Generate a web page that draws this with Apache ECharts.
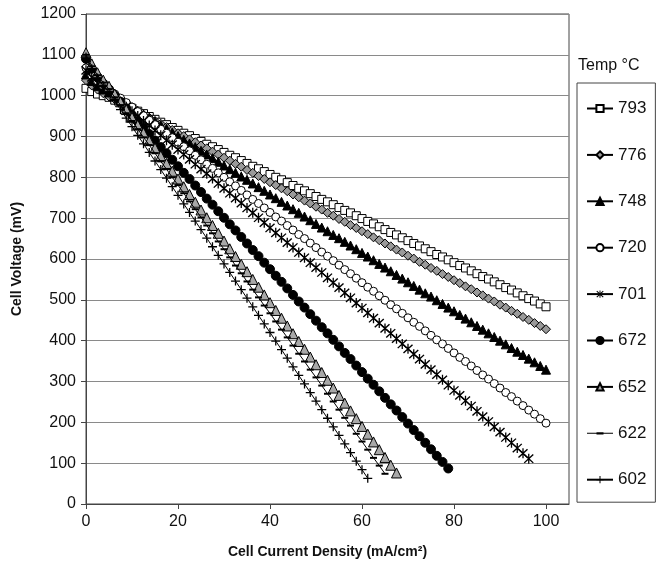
<!doctype html>
<html>
	<head>
		<meta charset="UTF-8">
		<title>Cell Voltage vs Current Density</title>
		<script src="https://cdn.jsdelivr.net/npm/echarts@6.0.0/dist/echarts.min.js"></script>
		<style>
			html, body {
				margin: 0;
				padding: 0;
				background: #fff;
			}
			#chart {
				width: 664px;
				height: 564px;
			}
		</style>
	</head>
	<body>
		<div id="chart"></div>
		<script type="text/javascript">
			// current density (mA/cm2), shared by all series, point i of every series sits here
			var currentDensity = [0,1.25,2.5,3.75,5,6.25,7.5,8.75,10,11.25,12.5,13.75,15,16.25,17.5,18.75,20,21.25,22.5,23.75,25,26.25,27.5,28.75,30,31.25,32.5,33.75,35,36.25,37.5,38.75,40,41.25,42.5,43.75,45,46.25,47.5,48.75,50,51.25,52.5,53.75,55,56.25,57.5,58.75,60,61.25,62.5,63.75,65,66.25,67.5,68.75,70,71.25,72.5,73.75,75,76.25,77.5,78.75,80,81.25,82.5,83.75,85,86.25,87.5,88.75,90,91.25,92.5,93.75,95,96.25,97.5,98.75,100];

			// cell voltage (mV) per temperature
			var v793 = [1018,1010,1004,1000,996,989,983,976,969,962,956,949,942,935,929,922,915,908,902,895,888,881,875,868,861,854,848,841,834,827,821,814,807,800,794,787,780,773,767,760,753,746,740,733,726,719,713,706,699,692,686,679,672,665,659,652,645,638,632,625,618,611,605,598,591,584,578,571,564,557,551,544,537,530,524,517,510,503,497,490,483];
			var v776 = [1038,1025,1015,1006,998,991,983,976,968,961,953,946,938,931,923,916,908,901,893,886,878,871,863,856,848,841,833,826,818,811,803,796,788,781,773,766,758,751,743,736,728,721,713,706,698,691,683,676,668,661,653,646,638,631,623,616,608,601,593,586,578,571,563,556,548,541,533,526,518,511,503,496,488,481,473,466,458,451,443,436,428];
			var v748 = [1052,1036,1024,1015,1008,999,990,981,972,963,954,945,937,928,919,910,901,892,883,874,865,856,847,838,829,820,811,802,794,785,776,767,758,749,740,731,722,713,704,695,686,677,668,659,651,642,633,624,615,606,597,588,579,570,561,552,543,534,525,516,508,499,490,481,472,463,454,445,436,427,418,409,400,391,382,373,365,356,347,338,329];
			var v720 = [1068,1050,1036,1024,1015,1004,994,983,972,961,951,940,929,918,908,897,886,875,865,854,843,832,822,811,800,789,779,768,757,746,736,725,714,703,693,682,671,660,650,639,628,617,607,596,585,574,564,553,542,531,521,510,499,488,478,467,456,445,435,424,413,402,392,381,370,359,349,338,327,316,306,295,284,273,263,252,241,230,220,209,198];
			var v701 = [1062,1045,1031,1019,1008,996,985,973,962,950,938,927,915,903,891,880,868,856,844,832,820,809,797,785,773,761,749,737,725,713,701,689,676,664,652,640,628,616,603,591,579,567,554,542,530,517,505,492,480,468,455,443,430,418,405,392,380,367,355,342,329,317,304,291,278,266,253,240,227,214,202,189,176,163,150,137,124,111];
			var v672 = [1090,1066,1046,1030,1016,1000,985,969,953,937,922,906,890,874,859,843,827,811,796,780,764,748,733,717,701,685,670,654,638,622,607,591,575,559,544,528,512,496,481,465,449,433,418,402,386,370,355,339,323,307,292,276,260,244,229,213,197,181,166,150,134,118,103,87];
			var v652 = [1105,1078,1056,1038,1023,1004,985,966,947,928,909,890,872,853,834,815,796,777,758,739,720,701,682,663,644,625,606,587,569,550,531,512,493,474,455,436,417,398,379,360,341,322,303,284,266,247,228,209,190,171,152,133,114,95,76];
			var v622 = [1100,1072,1050,1032,1016,996,977,957,938,918,898,879,859,839,820,800,781,761,741,722,702,682,663,643,624,604,584,565,545,525,506,486,467,447,427,408,388,368,349,329,310,290,270,251,231,211,192,172,153,133,113,94,74];
			var v602 = [1095,1066,1043,1024,1008,987,966,945,924,903,882,861,840,819,798,777,756,735,714,693,672,651,630,609,588,567,546,525,504,483,462,441,420,399,378,357,336,315,294,273,252,231,210,189,168,147,126,105,84,63];

			var temps = ['793', '776', '748', '720', '701', '672', '652', '622', '602'];
			var voltages = [v793, v776, v748, v720, v701, v672, v652, v622, v602];

			var xTicks = [0, 20, 40, 60, 80, 100];

			var FONT = 'Liberation Sans';
			var PLUS = 'path://M0,4.3H10V5.7H0Z M4.3,0H5.7V10H4.3Z';
			var STAR = 'path://M4.4,0H5.6V10H4.4Z M0.4,1.3L1.3,0.4L9.6,8.7L8.7,9.6Z M8.7,0.4L9.6,1.3L1.3,9.6L0.4,8.7Z';
			// 图例里的短横线标记 (622)
			var DASH_ICON = 'path://M0,0H0.01V0.01H0Z M0,4H26V5H0Z M9.5,3.4H16.5V5.6H9.5Z M25.99,8.99H26V9H25.99Z';

			//每条曲线的标记样式
			var markers = [
				{symbol: 'rect', size: 8, fill: '#fff'},
				{symbol: 'diamond', size: 9, fill: '#9a9a9a'},
				{symbol: 'triangle', size: 9, fill: '#000'},
				{symbol: 'circle', size: 8, fill: '#fff'},
				{symbol: STAR, size: 10, fill: '#000', noBorder: true},
				{symbol: 'circle', size: 9, fill: '#000'},
				{symbol: 'triangle', size: 10, fill: '#a8a8a8'},
				{symbol: 'rect', size: [7, 2], fill: '#000', noBorder: true},
				{symbol: PLUS, size: 9, fill: '#000', noBorder: true}
			];

			function pairUp(volts){
				var out = [];
				for(var i = 0; i < volts.length; i++){
					out.push([currentDensity[i], volts[i]]);
				}
				return out;
			}

			var seriesData = [];
			var legendData = [];
			for(var s = 0; s < temps.length; s++){
				var m = markers[s];
				seriesData.push({
					name: temps[s],
					type: 'line',
					data: pairUp(voltages[s]),
					symbol: m.symbol,
					symbolSize: m.size,
					showAllSymbol: true,
					lineStyle: {color: '#000', width: 1},
					itemStyle: {
						color: m.fill,
						borderColor: '#000',
						borderWidth: m.noBorder ? 0 : 1
					},
					emphasis: {disabled: true},
					z: 2 + s
				});
				if(temps[s] === '622'){
					legendData.push({name: temps[s], icon: DASH_ICON, itemStyle: {color: '#000', borderWidth: 0}});
				}
				else{
					legendData.push({name: temps[s]});
				}
			}

			var chart = echarts.init(document.getElementById('chart'));
			chart.setOption({
				animation: false,
				textStyle: {fontFamily: FONT},
				grid: {
					left: 86,
					right: 95,
					top: 14,
					bottom: 58,
					show: true,
					borderColor: '#444',
					borderWidth: 1
				},
				title: {
					text: 'Temp \u00B0C',
					left: 578,
					top: 58,
					padding: 0,
					textStyle: {fontFamily: FONT, fontSize: 16, fontWeight: 'normal', color: '#111'}
				},
				legend: {
					data: legendData,
					orient: 'vertical',
					left: 577,
					top: 83,
					padding: [17, 9, 14, 9],
					itemGap: 29.4,
					itemWidth: 26,
					itemHeight: 9,
					borderColor: '#444',
					borderWidth: 1,
					textStyle: {fontFamily: FONT, fontSize: 17, color: '#111', padding: [2, 0, 0, 0]}
				},
				xAxis: {
					type: 'value',
					min: 0,
					max: 105,
					interval: 20,
					name: 'Cell Current Density (mA/cm\u00B2)',
					nameLocation: 'middle',
					nameGap: 41,
					nameTextStyle: {fontFamily: FONT, fontSize: 14, fontWeight: 'bold', color: '#111'},
					axisLine: {lineStyle: {color: '#444'}},
					axisTick: {show: true, length: 5, customValues: xTicks, lineStyle: {color: '#444'}},
					axisLabel: {
						fontFamily: FONT,
						fontSize: 16,
						color: '#111',
						margin: 10,
						customValues: xTicks,
						formatter: function(v){
							return xTicks.indexOf(v) >= 0 ? String(v) : '';
						}
					},
					splitLine: {show: false}
				},
				yAxis: {
					type: 'value',
					min: 0,
					max: 1200,
					interval: 100,
					name: 'Cell Voltage (mV)',
					nameLocation: 'middle',
					nameGap: 62,
					nameTextStyle: {fontFamily: FONT, fontSize: 14, fontWeight: 'bold', color: '#111'},
					axisLine: {show: true, lineStyle: {color: '#444'}},
					axisTick: {show: true, length: 5, lineStyle: {color: '#444'}},
					axisLabel: {
						fontFamily: FONT,
						fontSize: 16,
						color: '#111',
						margin: 10,
						formatter: function(v){
							return String(v);
						}
					},
					splitLine: {lineStyle: {color: '#8a8a8a', width: 1}}
				},
				series: seriesData
			});
		</script>
	</body>
</html>
